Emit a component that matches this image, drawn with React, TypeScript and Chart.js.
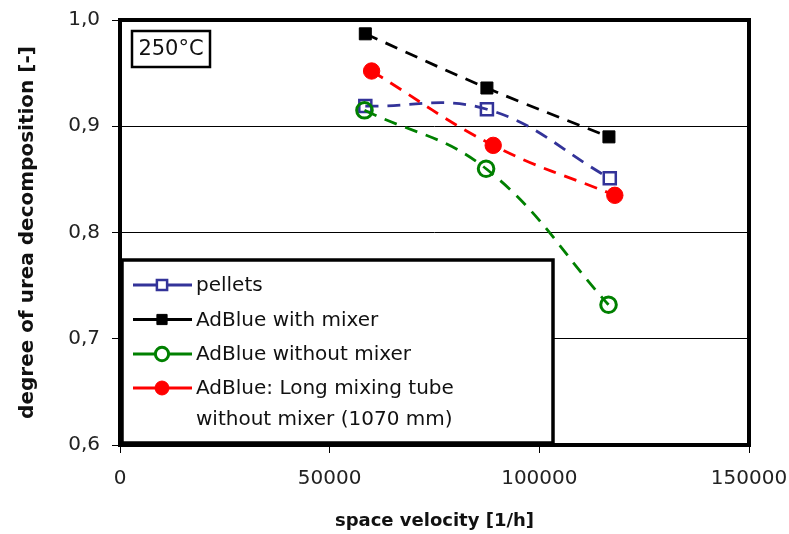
import React, { useEffect, useRef } from "react";
import { Chart, registerables } from "chart.js";

Chart.register(...registerables);

// ---- data ----
const seriesNames = ["pellets", "AdBlue with mixer", "AdBlue without mixer", "AdBlue: Long mixing tube\nwithout mixer (1070 mm)"];
const pelletsX = [58500, 87500, 116800];
const pelletsY = [0.919, 0.916, 0.851];
const mixerX = [58500, 87500, 116600];
const mixerY = [0.987, 0.936, 0.89];
const noMixerX = [58300, 87300, 116500];
const noMixerY = [0.915, 0.86, 0.732];
const longTubeX = [60000, 89000, 118000];
const longTubeY = [0.952, 0.882, 0.835];
const xTickValues = [0, 50000, 100000, 150000];
const yTickValues = [0.6, 0.7, 0.8, 0.9, 1.0];
const xTitle = "space velocity [1/h]";
const yTitle = "degree of urea decomposition [-]";
const tempLabel = "250°C";

const FONT = "'DejaVu Sans', sans-serif";

type Style = { color: string; shape: "rect" | "circle"; filled: boolean; radius: number; bw: number };
const styles: Style[] = [
  { color: "#333399", shape: "rect", filled: false, radius: 8.5, bw: 2.5 },
  { color: "#000000", shape: "rect", filled: true, radius: 8.5, bw: 1 },
  { color: "#008000", shape: "circle", filled: false, radius: 7.8, bw: 3 },
  { color: "#ff0000", shape: "circle", filled: true, radius: 8.2, bw: 1 },
];

function drawMarker(ctx: CanvasRenderingContext2D, s: Style, x: number, y: number, scale = 1) {
  ctx.save();
  ctx.lineWidth = s.bw;
  ctx.strokeStyle = s.color;
  ctx.fillStyle = s.filled ? s.color : "#ffffff";
  ctx.beginPath();
  if (s.shape === "rect") {
    const h = s.radius * Math.SQRT1_2 * scale;
    ctx.rect(x - h, y - h, 2 * h, 2 * h);
  } else {
    ctx.arc(x, y, s.radius * scale, 0, Math.PI * 2);
  }
  ctx.fill();
  ctx.stroke();
  ctx.restore();
}

const decorPlugin = {
  id: "decor",
  beforeDatasetsDraw(chart: any) {
    const { ctx, chartArea: a } = chart;
    ctx.save();
    ctx.strokeStyle = "#000";
    ctx.lineWidth = 4;
    ctx.strokeRect(a.left, a.top, a.right - a.left, a.bottom - a.top);
    ctx.restore();
  },
  afterDatasetsDraw(chart: any) {
    const { ctx, chartArea: a } = chart;
    // temperature box
    ctx.save();
    ctx.lineWidth = 2.5;
    ctx.strokeStyle = "#000";
    ctx.fillStyle = "#fff";
    ctx.fillRect(a.left + 12, a.top + 11, 78, 36);
    ctx.strokeRect(a.left + 12, a.top + 11, 78, 36);
    ctx.fillStyle = "#111";
    ctx.font = `21px ${FONT}`;
    ctx.textAlign = "center";
    ctx.textBaseline = "middle";
    ctx.fillText(tempLabel, a.left + 51, a.top + 30);
    ctx.restore();

    // legend box
    const L = a.left + 2;
    const B = a.bottom - 2;
    const W = 431;
    const H = 183;
    const T = B - H;
    ctx.save();
    ctx.fillStyle = "#fff";
    ctx.fillRect(L, T, W, H);
    ctx.lineWidth = 3.5;
    ctx.strokeStyle = "#000";
    ctx.strokeRect(L, T, W, H);
    const rows = [25, 59.5, 94, 128];
    ctx.font = `20px ${FONT}`;
    ctx.textBaseline = "middle";
    ctx.textAlign = "left";
    chart.data.datasets.forEach((ds: any, i: number) => {
      const s = styles[i];
      const y = T + rows[i];
      ctx.strokeStyle = s.color;
      ctx.lineWidth = 3;
      ctx.beginPath();
      ctx.moveTo(L + 11, y);
      ctx.lineTo(L + 70, y);
      ctx.stroke();
      drawMarker(ctx, s, L + 40, y, 0.85);
      ctx.fillStyle = "#111";
      const lines = String(ds.label).split("\n");
      lines.forEach((ln: string, k: number) => {
        ctx.fillText(ln, L + 74, y + 1 + k * 31);
      });
    });
    ctx.restore();
  },
};

function series(xs: number[], ys: number[]) {
  return xs.map((x, i) => ({ x, y: ys[i] }));
}

export default function App() {
  const ref = useRef<HTMLCanvasElement | null>(null);
  useEffect(() => {
    document.body.style.margin = "0";
    const canvas = ref.current!;
    const allData = [
      series(pelletsX, pelletsY),
      series(mixerX, mixerY),
      series(noMixerX, noMixerY),
      series(longTubeX, longTubeY),
    ];
    const datasets = allData.map((d, i) => {
      const s = styles[i];
      return {
        label: seriesNames[i],
        data: d,
        showLine: true,
        borderColor: s.color,
        borderWidth: 2.8,
        borderDash: [13, 9],
        tension: 0.4,
        fill: false,
        pointStyle: s.shape,
        pointRadius: s.radius,
        pointBorderWidth: s.bw,
        pointBorderColor: s.color,
        pointBackgroundColor: s.filled ? s.color : "rgba(0,0,0,0)",
        order: 4 - i,
      };
    });
    const chart = new Chart(canvas, {
      type: "scatter",
      data: { datasets } as any,
      options: {
        animation: false,
        responsive: true,
        maintainAspectRatio: false,
        layout: { padding: { left: 0, top: 20, right: 40, bottom: 0 } },
        plugins: { legend: { display: false }, tooltip: { enabled: false } },
        scales: {
          x: {
            type: "linear",
            min: xTickValues[0],
            max: xTickValues[xTickValues.length - 1],
            afterBuildTicks: (scale: any) => {
              scale.ticks = xTickValues.map((v) => ({ value: v }));
            },
            afterFit: (scale: any) => {
              scale.height = 89;
              scale.paddingLeft = 0;
              scale.paddingRight = 0;
            },
            border: { display: false },
            grid: { drawOnChartArea: false, drawTicks: true, tickLength: 8, color: "#000", lineWidth: 1 },
            ticks: {
              padding: 14,
              maxRotation: 0,
              autoSkip: false,
              color: "#222",
              font: { family: FONT, size: 20 },
              callback: (v: any) => String(v),
            },
            title: {
              display: true,
              text: xTitle,
              color: "#111",
              font: { family: FONT, size: 18, weight: "bold" },
              padding: { top: 0, bottom: 2 },
            },
          },
          y: {
            type: "linear",
            min: yTickValues[0],
            max: yTickValues[yTickValues.length - 1],
            afterBuildTicks: (scale: any) => {
              scale.ticks = yTickValues.map((v) => ({ value: v }));
            },
            afterFit: (scale: any) => {
              scale.width = 120;
              scale.paddingTop = 0;
              scale.paddingBottom = 0;
            },
            border: { display: false },
            grid: { drawOnChartArea: true, drawTicks: true, tickLength: 8, color: "#000", lineWidth: 1 },
            ticks: {
              padding: 12,
              color: "#222",
              font: { family: FONT, size: 20 },
              callback: (v: any) => Number(v).toFixed(1).replace(".", ","),
            },
            title: {
              display: true,
              text: yTitle,
              color: "#111",
              font: { family: FONT, size: 20, weight: "bold" },
              padding: { top: 16, bottom: 0 },
            },
          },
        },
      },
      plugins: [decorPlugin],
    } as any);
    return () => chart.destroy();
  }, []);
  return (
    <div style={{ position: "relative", width: 789, height: 534, background: "#fff" }}>
      <canvas ref={ref} />
    </div>
  );
}
